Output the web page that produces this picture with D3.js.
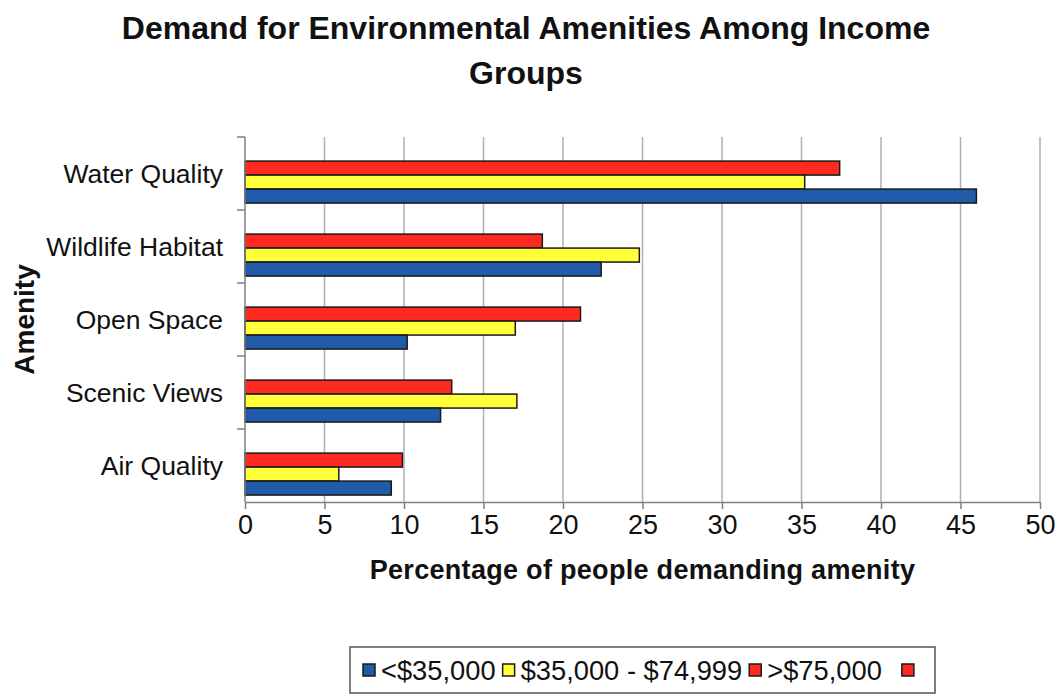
<!DOCTYPE html>
<html>
<head>
<meta charset="utf-8">
<script src="https://cdn.jsdelivr.net/npm/d3@7"></script>
<style>
  html, body { margin: 0; padding: 0; background: #fff; }
  text { font-family: "Liberation Sans", Arial, sans-serif; fill: #111; }
</style>
</head>
<body>
<div id="chart"></div>
<script>
const categories = ['Water Quality', 'Wildlife Habitat', 'Open Space', 'Scenic Views', 'Air Quality'];
const seriesNames = ['<$35,000', '$35,000 - $74,999', '>$75,000'];
const lowIncome = [46.0, 22.4, 10.2, 12.3, 9.2];
const midIncome = [35.2, 24.8, 17.0, 17.1, 5.9];
const highIncome = [37.4, 18.7, 21.1, 13.0, 9.9];
const xTicks = [0, 5, 10, 15, 20, 25, 30, 35, 40, 45, 50];
const seriesColors = ['#1f5ba8', '#ffff3a', '#ff2a1f'];

const W = 1062, H = 694;
const margin = { top: 137, right: 22, bottom: 192, left: 245 };
const width = W - margin.left - margin.right;
const height = H - margin.top - margin.bottom;

const svg = d3.select('#chart').append('svg')
    .attr('width', W)
    .attr('height', H);

const g = svg.append('g')
    .attr('transform', `translate(${margin.left},${margin.top})`);

// escales
const x = d3.scaleLinear().domain([0, 50]).range([0, width]);
const y = d3.scaleBand().domain(categories).range([0, height]).padding(0);
// barres dins de cada grup: vermell a dalt, blau a baix
const drawOrder = [2, 1, 0];
const yInner = d3.scaleBand()
    .domain(drawOrder)
    .range([y.bandwidth() * 0.33, y.bandwidth() * 0.905]);

// gridlines
g.append('g')
    .selectAll('line')
    .data(xTicks.filter(d => d > 0))
    .join('line')
    .attr('x1', d => x(d)).attr('x2', d => x(d))
    .attr('y1', 0).attr('y2', height)
    .attr('stroke', '#b0b0b0')
    .attr('stroke-width', 1.5);

// barres
const seriesValues = [lowIncome, midIncome, highIncome];
drawOrder.forEach(s => {
    g.append('g')
        .selectAll('rect')
        .data(categories.map((c, i) => ({ c, v: seriesValues[s][i] })))
        .join('rect')
        .attr('x', x(0))
        .attr('y', d => y(d.c) + yInner(s))
        .attr('width', d => x(d.v) - x(0))
        .attr('height', yInner.bandwidth())
        .attr('fill', seriesColors[s])
        .attr('stroke', '#1a1a1a')
        .attr('stroke-width', 1.5);
});

// eix X
const xAxis = g.append('g')
    .attr('transform', `translate(0,${height})`)
    .call(d3.axisBottom(x).tickValues(xTicks).tickSize(7).tickPadding(6).tickSizeOuter(0));
xAxis.select('.domain').attr('stroke', '#808080').attr('stroke-width', 1.5);
xAxis.selectAll('.tick line').attr('stroke', '#808080').attr('stroke-width', 1.5);
xAxis.selectAll('text')
    .attr('font-size', '27px')
    .attr('font-family', '"Liberation Sans", Arial, sans-serif')
    .attr('fill', '#111');

// eix Y: línia i marques entre categories
g.append('line')
    .attr('x1', 0).attr('x2', 0)
    .attr('y1', 0).attr('y2', height)
    .attr('stroke', '#808080')
    .attr('stroke-width', 1.5);
g.append('g')
    .selectAll('line')
    .data(categories.map(c => y(c)))
    .join('line')
    .attr('x1', -8).attr('x2', 0)
    .attr('y1', d => d).attr('y2', d => d)
    .attr('stroke', '#808080')
    .attr('stroke-width', 1.5);

g.append('g')
    .selectAll('text')
    .data(categories)
    .join('text')
    .attr('x', -22)
    .attr('y', d => y(d) + y.bandwidth() / 2)
    .attr('dy', '0.35em')
    .attr('text-anchor', 'end')
    .attr('font-size', '26.5px')
    .text(d => d);

// títol
svg.append('text')
    .attr('x', 526)
    .attr('y', 39)
    .attr('text-anchor', 'middle')
    .attr('font-size', '32px')
    .attr('font-weight', 'bold')
    .text('Demand for Environmental Amenities Among Income');
svg.append('text')
    .attr('x', 526)
    .attr('y', 84)
    .attr('text-anchor', 'middle')
    .attr('font-size', '32px')
    .attr('font-weight', 'bold')
    .text('Groups');

// etiquetes dels eixos
svg.append('text')
    .attr('x', margin.left + width / 2)
    .attr('y', 579)
    .attr('text-anchor', 'middle')
    .attr('font-size', '27px')
    .attr('font-weight', 'bold')
    .attr('letter-spacing', '0.3px')
    .text('Percentage of people demanding amenity');

svg.append('text')
    .attr('transform', `translate(34,${margin.top + height / 2}) rotate(-90)`)
    .attr('text-anchor', 'middle')
    .attr('font-size', '28px')
    .attr('font-weight', 'bold')
    .text('Amenity');

// llegenda
const legend = svg.append('g');
legend.append('rect')
    .attr('x', 350).attr('y', 647)
    .attr('width', 585).attr('height', 46)
    .attr('fill', '#fff')
    .attr('stroke', '#555')
    .attr('stroke-width', 1.5);

let lx = 363;
seriesNames.forEach((name, i) => {
    legend.append('rect')
        .attr('x', lx).attr('y', 664)
        .attr('width', 12).attr('height', 12)
        .attr('fill', seriesColors[i])
        .attr('stroke', '#1a1a1a')
        .attr('stroke-width', 1.5);
    const t = legend.append('text')
        .attr('x', lx + 18)
        .attr('y', 680)
        .attr('font-size', '27.3px')
        .text(name);
    lx += 18 + t.node().getComputedTextLength() + 7;
});
// quadre extra sense etiqueta, com a l'original
legend.append('rect')
    .attr('x', lx + 13).attr('y', 664)
    .attr('width', 12).attr('height', 12)
    .attr('fill', seriesColors[2])
    .attr('stroke', '#1a1a1a')
    .attr('stroke-width', 1.5);
</script>
</body>
</html>
